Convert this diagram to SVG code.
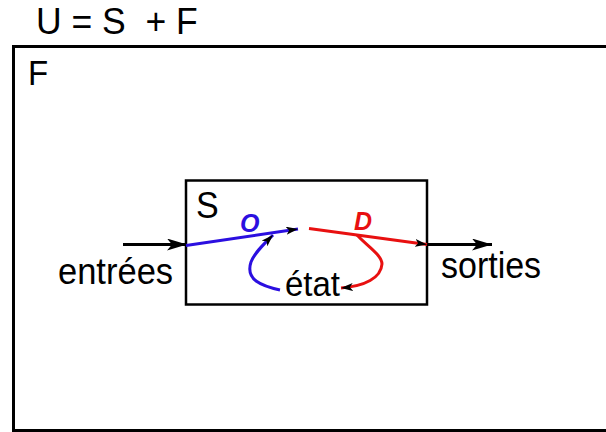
<svg xmlns="http://www.w3.org/2000/svg" width="606" height="432" viewBox="0 0 606 432">
<defs>
<style>
.t{font-family:"Liberation Sans",Arial,sans-serif;fill:#000}
.lbl{font-family:"Liberation Sans",Arial,sans-serif;font-weight:bold;font-style:italic;font-size:25px}
.box{fill:none;stroke:#000}
</style>
<marker id="ak" viewBox="0 0 20 12" refX="20" refY="6" markerWidth="20" markerHeight="12" markerUnits="userSpaceOnUse" orient="auto"><path d="M0,0L20,6L0,12L5,6z" fill="#000"/></marker>
<marker id="as" viewBox="0 0 12 8" refX="12" refY="4" markerWidth="12" markerHeight="8" markerUnits="userSpaceOnUse" orient="auto"><path d="M0,0L12,4L0,8L3,4z" fill="#000"/></marker>
</defs>
<text class="t" transform="translate(36,34) scale(1,1.06)" font-size="35.5" xml:space="preserve">U = S  + F</text>
<g id="F">
<rect class="box" x="13.5" y="46.5" width="600" height="384" stroke-width="3"/>
<text class="t" transform="translate(28,85) scale(1,1.06)" font-size="33">F</text>
</g>
<g id="S">
<rect class="box" x="186" y="180.5" width="241" height="124" stroke-width="2.5"/>
<text class="t" transform="translate(196,218) scale(1,1.06)" font-size="34">S</text>
</g>
<g id="etat"><text class="t" transform="translate(285,296) scale(1,1.06)" font-size="33">état</text></g>
<g id="entrees"><text class="t" transform="translate(58,284) scale(1,1.06)" font-size="34.5">entrées</text></g>
<g id="sorties"><text class="t" transform="translate(441,278) scale(1,1.06)" font-size="34">sorties</text></g>
<g id="connectors">
<line x1="123" y1="244.5" x2="187" y2="244.5" stroke="#000" stroke-width="3" marker-end="url(#ak)"/>
<line x1="427" y1="244.5" x2="492" y2="244.5" stroke="#000" stroke-width="3" marker-end="url(#ak)"/>
<line x1="186" y1="245.5" x2="298" y2="229" stroke="#2b0fe0" stroke-width="3" marker-end="url(#as)"/>
<line x1="309" y1="228.5" x2="427" y2="244.5" stroke="#e81010" stroke-width="3" marker-end="url(#as)"/>
<path d="M280,290 C262,286 245,280 251,262 C255,252 264,244 273,235" fill="none" stroke="#2b0fe0" stroke-width="3" marker-end="url(#as)"/>
<path d="M357,235 C366,245 382,255 382,264 C381,278 365,286 341,288" fill="none" stroke="#e81010" stroke-width="3" marker-end="url(#as)"/>
<text class="lbl" x="240" y="232" fill="#2b0fe0">O</text>
<text class="lbl" x="354" y="230" fill="#e81010">D</text>
</g>
</svg>
